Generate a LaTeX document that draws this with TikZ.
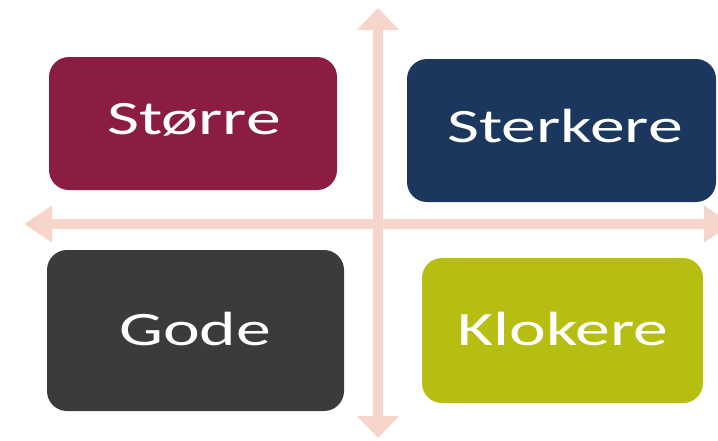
\documentclass[tikz,border=0pt]{standalone}
\usepackage{fontspec}
\newfontfamily\boxfont[FakeStretch=1.45]{Carlito}
\usetikzlibrary{arrows.meta}
\definecolor{axiscol}{HTML}{F7D5CA}
\definecolor{cStorre}{HTML}{8B1D41}
\definecolor{cSterk}{HTML}{1B375E}
\definecolor{cGode}{HTML}{3B3B3B}
\definecolor{cKlok}{HTML}{B5BE11}
\tikzset{
  quad/.style={rounded corners=20pt, draw=none},
  word/.style={anchor=base, text=white, inner sep=0pt, font=\boxfont\fontsize{48}{52}\selectfont},
  axis/.style={draw=axiscol, line width=10pt}
}
\begin{document}
\begin{tikzpicture}[x=1pt, y=-1pt]
\useasboundingbox (0,0) rectangle (718,440);
\clip (0,0) rectangle (718,440);
% axes
\coordinate (vtop) at (378,8);
\coordinate (vbot) at (378,438);
\coordinate (hleft) at (24,224);
\coordinate (hright) at (732,224);
\draw[axis, {Triangle[length=22pt, width=41pt]}-{Triangle[length=22pt, width=41pt]}] (vbot) -- (vtop);
\draw[axis, {Triangle[length=28pt, width=35pt]}-{Triangle[length=28pt, width=35pt]}] (hleft) -- (hright);
% boxes
\fill[quad, cStorre] (49,57) rectangle (337,190);
\fill[quad, cSterk] (407,59) rectangle (716,202);
\fill[quad, cGode] (47,250) rectangle (344,411);
\fill[quad, cKlok] (422,258) rectangle (703,403);
% labels
\node[word] (storre) at (194,134) {Større};
\node[word] (sterkere) at (565,142) {Sterkere};
\node[word] (gode) at (195,345) {Gode};
\node[word] (klokere) at (563,345) {Klokere};
\end{tikzpicture}
\end{document}
